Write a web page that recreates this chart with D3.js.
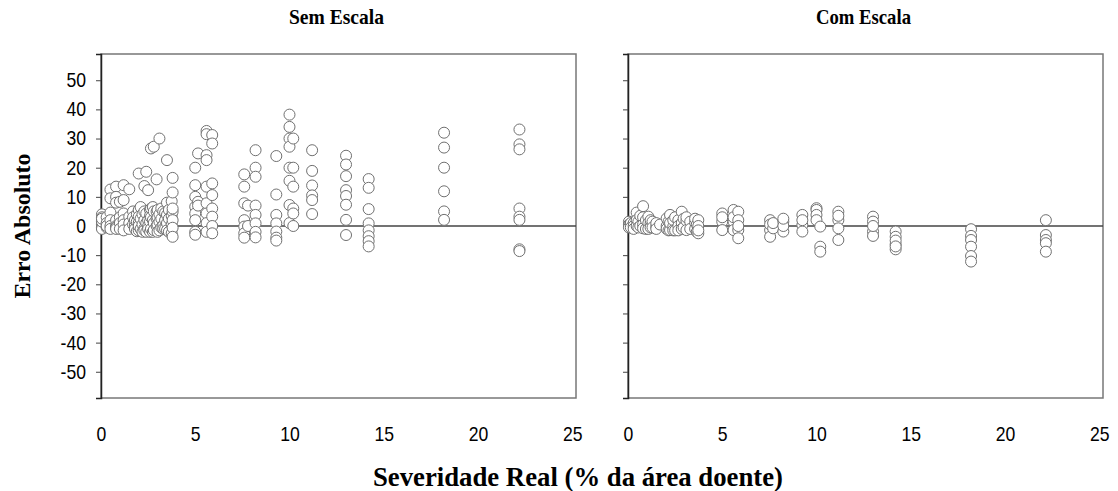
<!DOCTYPE html>
<html>
<head>
<meta charset="utf-8">
<script src="https://cdn.jsdelivr.net/npm/d3@7"></script>
<style>
  body { margin: 0; background: #fff; }
  .tick text { font-family: "Liberation Sans", Arial, sans-serif; font-size: 20px; fill: #000; }
  .title { font-family: "Liberation Serif", "Times New Roman", serif; font-weight: bold; }
</style>
</head>
<body>
<div id="chart"></div>
<script>
// Sem Escala: severidade real (x) vs erro absoluto (y)
const semX = [
  0.05, 0.05, 0.05, 0.05, 0.05, 0.05, 0.05, 0.05, 0.05, 0.05,
  0.3, 0.3, 0.3, 0.3,
  0.5, 0.5, 0.5, 0.5, 0.5, 0.5,
  0.8, 0.8, 0.8, 0.8, 0.8, 0.8, 0.8,
  1.0, 1.0, 1.0, 1.0,
  1.2, 1.2, 1.2, 1.2, 1.2, 1.2,
  1.5, 1.5, 1.5, 1.5,
  1.7, 1.7, 1.7,
  1.8, 1.8, 1.8,
  1.9, 1.9, 1.9,
  2.0, 2.0, 2.0, 2.0, 2.0, 2.0,
  2.1, 2.1, 2.1,
  2.2, 2.2, 2.2,
  2.3, 2.3, 2.3, 2.3, 2.3,
  2.4, 2.4, 2.4, 2.4,
  2.5, 2.5, 2.5, 2.5,
  2.6, 2.6, 2.6, 2.6,
  2.65, 2.65, 2.65, 2.65,
  2.75, 2.75, 2.75,
  2.8, 2.8, 2.8, 2.8,
  2.95, 2.95, 2.95, 2.95,
  3.0, 3.0, 3.0, 3.0,
  3.1, 3.1, 3.1, 3.1,
  3.2, 3.2, 3.2,
  3.3, 3.3, 3.3,
  3.4, 3.4, 3.4,
  3.5, 3.5, 3.5, 3.5, 3.5,
  3.6, 3.6, 3.6,
  3.75, 3.75, 3.75, 3.75,
  3.8, 3.8, 3.8, 3.8, 3.8, 3.8, 3.8,
  5.0, 5.0, 5.0, 5.0, 5.0, 5.0, 5.0, 5.0, 5.15, 5.15, 5.15,
  5.6, 5.6, 5.6, 5.6, 5.6, 5.6, 5.6, 5.6, 5.6,
  5.9, 5.9, 5.9, 5.9, 5.9, 5.9, 5.9, 5.9,
  7.6, 7.6, 7.6, 7.6, 7.6, 7.6, 7.6, 7.8, 7.8,
  8.2, 8.2, 8.2, 8.2, 8.2, 8.2, 8.2, 8.2,
  9.3, 9.3, 9.3, 9.3, 9.3, 9.3, 9.3,
  10.0, 10.0, 10.0, 10.0, 10.0, 10.0, 10.0, 10.0,
  10.2, 10.2, 10.2, 10.2, 10.2, 10.2,
  11.2, 11.2, 11.2, 11.2, 11.2, 11.2,
  13.0, 13.0, 13.0, 13.0, 13.0, 13.0, 13.0, 13.0,
  14.2, 14.2, 14.2, 14.2, 14.2, 14.2, 14.2, 14.2,
  18.2, 18.2, 18.2, 18.2, 18.2, 18.2,
  22.2, 22.2, 22.2, 22.2, 22.2, 22.2, 22.2, 22.2
];
const semY = [
  4, 3, 2, 1, 0.5, 0, -0.5, -1, 1.5, 2.5,
  3, 1, -0.5, 0,
  12.5, 9.5, 4.6, 2, 0, -1,
  13.5, 10, 8, 2, 0, -0.5, -1,
  8.3, 3, 1, -1,
  14, 8.9, 4.3, 2, 0.5, -1.5,
  12.6, 3.2, 1, -1,
  5, 3, 0.5,
  0.3, 2, -1,
  4, 1.5, -1.8,
  18, 5.5, 3.2, 1, -1.5, 0,
  6.5, 2.5, -1,
  4, 0.5, -2,
  13.7, 5, 2, -0.8, -1.5,
  18.6, 4.3, 1, -2,
  12.3, 2, 0, -1,
  5.5, 3.5, 1.5, -2,
  26.6, 6, 3, -1,
  6.5, 2, -2,
  27.2, 5, 1, -1.4,
  16, 4.9, 2.5, 0,
  5.5, 3, 0.5, -2,
  30, 1.5, 4, -1.5,
  6, 2.5, -0.5,
  0.3, 5, -1,
  4.5, 2, -1,
  22.6, 8, 3.8, 1, -1.5,
  5.5, 2.5, -2,
  8.5, 3.5, 0.5, -2.5,
  16.5, 11.5, 4.9, 2, -0.6, -3.7, 6,
  20, 14, 10, 6.6, 4.3, 2, -2, -3, 24.9, 8.3, 7,
  32.6, 31.5, 24.3, 22.6, 13.5, 7.8, 4.3, 1, -2,
  31.2, 28.3, 14.6, 10.6, 6, 3.2, 0, -2.5,
  17.7, 13.5, 7.8, 2, -0.2, -2.5, -4, 7, 0,
  26, 20, 16.9, 7, 3.8, 0.9, -2, -3.9,
  24, 10.8, 3.8, 0.9, -1.9, -4, -5,
  38.2, 34, 30, 27.2, 20, 15.5, 7.2, 1,
  30, 20, 13.5, 6, 4.3, 0,
  26, 18.9, 13.9, 10.5, 8.9, 4.1,
  24.1, 21.1, 17.1, 12.3, 10.3, 7.3, 2.1, -3.1,
  16.1, 13.1, 5.8, 0.9, -1.5, -3.5, -5.2, -7,
  32, 26.9, 20, 11.9, 5, 2.1,
  33.1, 28, 26.3, 6, 3.2, 2.1, -8, -8.6
];

// Com Escala
const comX = [
  0.05, 0.05, 0.05, 0.05,
  0.15, 0.15,
  0.3, 0.3, 0.3,
  0.46, 0.46, 0.46,
  0.55, 0.55,
  0.65, 0.65,
  0.8, 0.8, 0.8, 0.8,
  0.95, 0.95,
  1.08, 1.08, 1.08,
  1.2, 1.2, 1.2,
  1.3, 1.3,
  1.5, 1.5, 1.5,
  1.7,
  2.05, 2.05, 2.05,
  2.15, 2.15,
  2.23, 2.23, 2.23,
  2.4, 2.4, 2.4,
  2.5, 2.5,
  2.67, 2.67, 2.67,
  2.85, 2.85, 2.85,
  2.95, 2.95,
  3.1, 3.1, 3.1,
  3.3, 3.3,
  3.56, 3.56, 3.56,
  3.65, 3.65,
  3.73, 3.73, 3.73, 3.73,
  5.0, 5.0, 5.0, 5.0,
  5.6, 5.6, 5.6, 5.6,
  5.85, 5.85, 5.85, 5.85, 5.85,
  7.54, 7.54, 7.54, 7.54,
  7.7, 7.7,
  8.24, 8.24, 8.24, 8.24,
  9.25, 9.25, 9.25, 9.25,
  10.0, 10.0, 10.0, 10.0,
  10.2, 10.2, 10.2,
  11.16, 11.16, 11.16, 11.16, 11.16,
  13.0, 13.0, 13.0, 13.0, 13.0,
  14.2, 14.2, 14.2, 14.2, 14.2, 14.2,
  18.2, 18.2, 18.2, 18.2, 18.2, 18.2,
  22.17, 22.17, 22.17, 22.17, 22.17
];
const comY = [
  1.5, 0.5, 0, -0.5,
  1, -0.5,
  1, 0, -1,
  4.6, 2, 0,
  1.5, -0.5,
  3.5, 0,
  6.8, 3, 0.5, -0.8,
  2, -1,
  3.2, 1, -1,
  0.9, 2, -0.5,
  1.5, -0.5,
  -0.2, 1, -1,
  0.5,
  2.6, 0, -1,
  1.5, -1.5,
  3.8, -1.4, 1,
  -0.2, 2, -1.5,
  3, -1.5,
  2, 0, -1.5,
  4.9, 1, -1,
  2.5, -0.5,
  1.8, -1.4, 3,
  1.5, -1,
  1.1, 2.5, -1,
  0.5, -2,
  2, -2.5, 0, -1.5,
  4.3, 1.5, -1.4, 3,
  5.5, 1.5, -1.4, 3,
  4.9, -1.4, -4.2, 2, 0,
  2, -1.4, -3.7, 0.5,
  -0.8, 1,
  1.5, -1.9, 0, 2.5,
  3.8, 0.3, -1.9, 2,
  6.1, 5.5, 3.8, 2,
  -0.2, -7.1, -8.8,
  4.9, 2, -0.8, -4.8, 3.5,
  3.2, 1.5, -1.9, -3.4, 0,
  -1.9, -3.7, -6.3, -8, -5, -7,
  -1.1, -3.4, -4.8, -7.1, -10.3, -12.2,
  2, -3.1, -4.8, -5.9, -8.8
];

const xTicks = [0, 5, 10, 15, 20, 25];
const yTicks = [50, 40, 30, 20, 10, 0, -10, -20, -30, -40, -50];

const panels = [
  { title: 'Sem Escala', xs: semX, ys: semY, left: 101, labels: true },
  { title: 'Com Escala', xs: comX, ys: comY, left: 628, labels: false }
];

const width = 1118, height = 491;
const plotW = 475, plotTop = 54, plotBottom = 398;

const svg = d3.select('#chart')
  .append('svg')
  .attr('width', width)
  .attr('height', height);

const y = d3.scaleLinear().domain([-59, 59]).range([plotBottom, plotTop]);

panels.forEach(p => {
  const x = d3.scaleLinear().domain([0, 25.2]).range([p.left, p.left + plotW]);

  // frame
  svg.append('rect')
    .attr('x', p.left).attr('y', plotTop)
    .attr('width', plotW).attr('height', plotBottom - plotTop)
    .attr('fill', 'none')
    .attr('stroke', '#777')
    .attr('stroke-width', 1.5);

  // zero line
  svg.append('line')
    .attr('x1', p.left).attr('x2', p.left + plotW)
    .attr('y1', y(0)).attr('y2', y(0))
    .attr('stroke', '#444')
    .attr('stroke-width', 1.5);

  // y axis
  const yAxis = d3.axisLeft(y).tickValues(yTicks).tickSize(5).tickPadding(12)
    .tickFormat(p.labels ? d => String(d) : '');
  const gy = svg.append('g')
    .attr('transform', `translate(${p.left},0)`)
    .call(yAxis);
  gy.select('.domain').attr('stroke', '#222').attr('stroke-width', 1.5);
  gy.selectAll('.tick line').attr('stroke', '#444');
  gy.selectAll('.tick text').attr('transform', 'scale(0.88,1)');

  // x axis (labels only)
  const gx = svg.append('g')
    .attr('transform', `translate(0,${plotBottom})`)
    .call(d3.axisBottom(x).tickValues(xTicks).tickSize(0).tickPadding(29));
  gx.select('.domain').remove();
  gx.selectAll('.tick text').attr('transform', 'scale(0.88,1)');

  // points
  svg.append('g')
    .selectAll('circle')
    .data(p.xs.map((v, i) => [v, p.ys[i]]))
    .enter()
    .append('circle')
    .attr('cx', d => x(d[0]))
    .attr('cy', d => y(d[1]))
    .attr('r', 5.5)
    .attr('fill', '#fff')
    .attr('stroke', '#707070')
    .attr('stroke-width', 1);

  // panel title
  svg.append('text')
    .attr('class', 'title')
    .attr('x', p.left + plotW / 2 - 2)
    .attr('y', 24)
    .attr('text-anchor', 'middle')
    .style('font-size', '22px')
    .attr('textLength', 95)
    .attr('lengthAdjust', 'spacingAndGlyphs')
    .text(p.title);
});

// axis labels
svg.append('text')
  .attr('class', 'title')
  .attr('text-anchor', 'middle')
  .attr('transform', `translate(30,${y(0)}) rotate(-90)`)
  .style('font-size', '24px')
  .attr('textLength', 145)
  .attr('lengthAdjust', 'spacingAndGlyphs')
  .text('Erro Absoluto');

svg.append('text')
  .attr('class', 'title')
  .attr('text-anchor', 'middle')
  .attr('x', 578)
  .attr('y', 486)
  .style('font-size', '27px')
  .attr('textLength', 410)
  .attr('lengthAdjust', 'spacingAndGlyphs')
  .text('Severidade Real (% da área doente)');
</script>
</body>
</html>
